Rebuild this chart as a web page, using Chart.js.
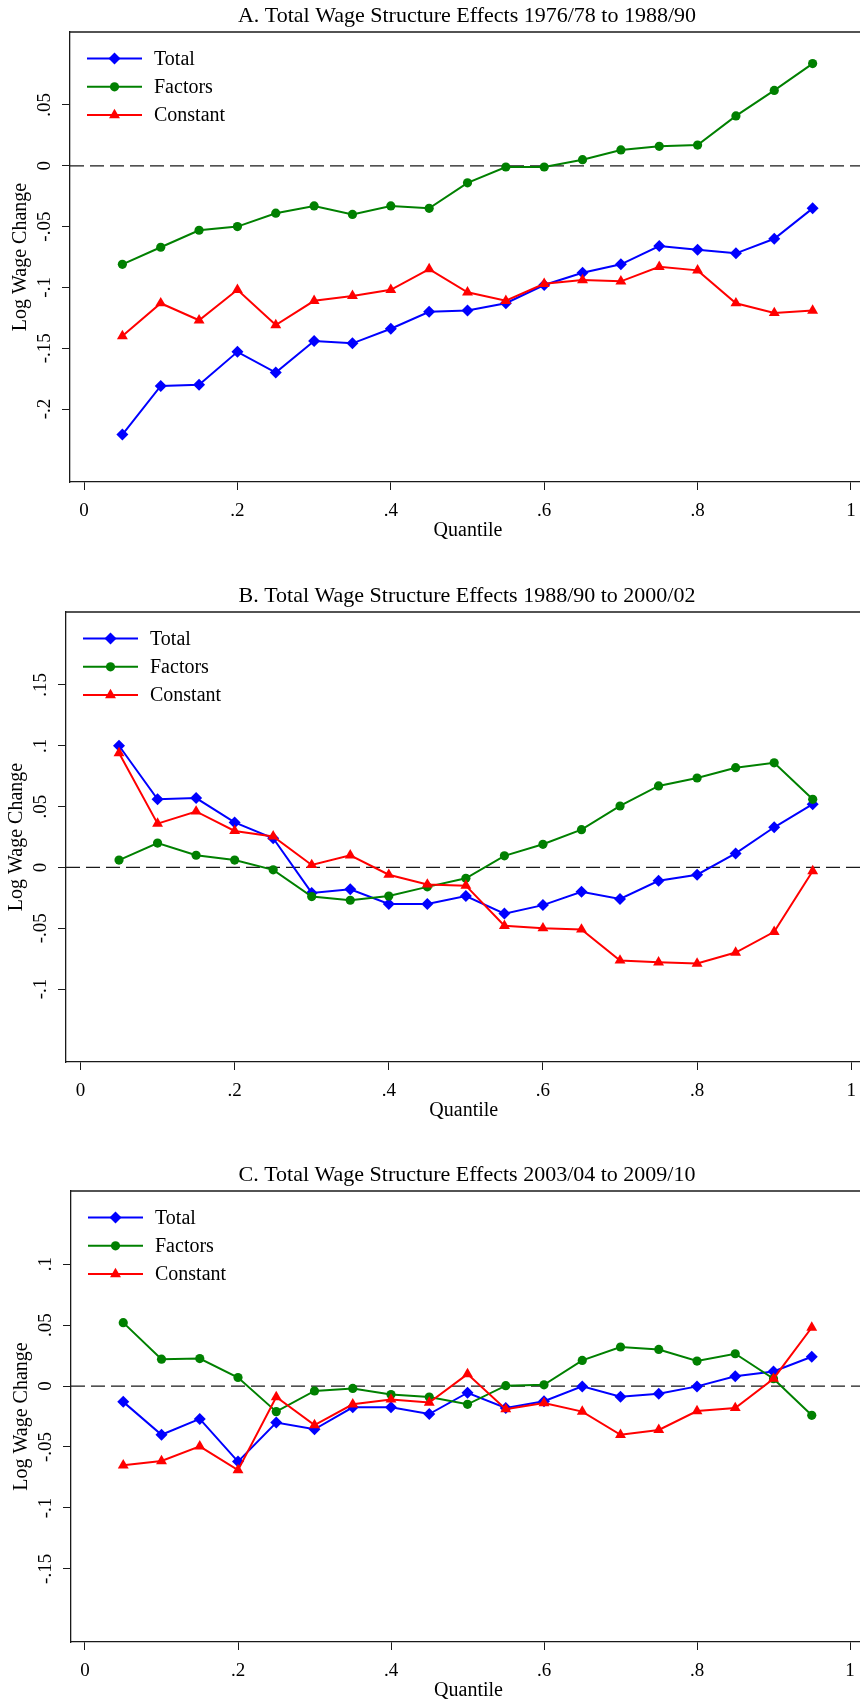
<!DOCTYPE html>
<html>
<head>
<meta charset="utf-8">
<title>Total Wage Structure Effects</title>
<script src="https://cdn.jsdelivr.net/npm/chart.js@4.4.1/dist/chart.umd.min.js"></script>
<style>
  html, body { margin: 0; padding: 0; background: #fff; overflow: hidden; width: 860px; height: 1699px; }
  .panel { position: absolute; left: 0; width: 866px; }
</style>
</head>
<body>
<div class="panel" style="top:0;height:550px"><canvas id="panel-a"></canvas></div>
<div class="panel" style="top:550px;height:580px"><canvas id="panel-b"></canvas></div>
<div class="panel" style="top:1130px;height:575px"><canvas id="panel-c"></canvas></div>
<script>
const quantiles = [0.05, 0.10, 0.15, 0.20, 0.25, 0.30, 0.35, 0.40, 0.45, 0.50, 0.55, 0.60, 0.65, 0.70, 0.75, 0.80, 0.85, 0.90, 0.95];
const xTicks = [0, 0.2, 0.4, 0.6, 0.8, 1];

// A. 1976/78 to 1988/90
const totalA    = [-0.221, -0.181, -0.180, -0.153, -0.170, -0.144, -0.146, -0.134, -0.120, -0.119, -0.113, -0.098, -0.088, -0.081, -0.066, -0.069, -0.072, -0.060, -0.035];
const factorsA  = [-0.081, -0.067, -0.053, -0.050, -0.039, -0.033, -0.040, -0.033, -0.035, -0.014, -0.001, -0.001, 0.005, 0.013, 0.016, 0.017, 0.041, 0.062, 0.084];
const constantA = [-0.140, -0.113, -0.127, -0.102, -0.131, -0.111, -0.107, -0.102, -0.085, -0.104, -0.111, -0.097, -0.094, -0.095, -0.083, -0.086, -0.113, -0.121, -0.119];
const yTicksA   = [-0.2, -0.15, -0.1, -0.05, 0, 0.05];

// B. 1988/90 to 2000/02
const totalB    = [0.100, 0.056, 0.057, 0.037, 0.024, -0.021, -0.018, -0.030, -0.030, -0.0235, -0.038, -0.031, -0.020, -0.026, -0.011, -0.006, 0.0115, 0.033, 0.052];
const factorsB  = [0.006, 0.020, 0.010, 0.006, -0.002, -0.024, -0.027, -0.0235, -0.016, -0.009, 0.0095, 0.019, 0.031, 0.0505, 0.067, 0.0735, 0.082, 0.086, 0.056];
const constantB = [0.094, 0.036, 0.046, 0.030, 0.0255, 0.002, 0.010, -0.006, -0.014, -0.015, -0.048, -0.050, -0.051, -0.0765, -0.078, -0.079, -0.070, -0.053, -0.003];
const yTicksB   = [-0.1, -0.05, 0, 0.05, 0.1, 0.15];

// C. 2003/04 to 2009/10
const totalC    = [-0.013, -0.040, -0.027, -0.062, -0.030, -0.0355, -0.0175, -0.0175, -0.023, -0.0055, -0.018, -0.0125, -0.0003, -0.0087, -0.0063, -0.0003, 0.008, 0.012, 0.024];
const factorsC  = [0.052, 0.022, 0.0225, 0.007, -0.021, -0.004, -0.002, -0.007, -0.009, -0.015, 0.0003, 0.001, 0.021, 0.032, 0.030, 0.0205, 0.0265, 0.006, -0.024];
const constantC = [-0.065, -0.0615, -0.0495, -0.069, -0.009, -0.032, -0.015, -0.011, -0.0135, 0.0098, -0.019, -0.014, -0.021, -0.040, -0.036, -0.0205, -0.018, 0.006, 0.048];
const yTicksC   = [-0.15, -0.1, -0.05, 0, 0.05, 0.1];

const FONT = '"Liberation Serif", "Times New Roman", serif';
const FRAME = '#1a1a1a';
const X_AXIS_HEIGHT = 61;

Chart.defaults.font.family = FONT;
Chart.defaults.color = '#000';
Chart.defaults.animation = false;

// stata style number labels: .05, -.1, 0, 1
function stataNum(v){
    if (Math.abs(v) < 1e-9) return '0';
    const s = String(Math.abs(v)).replace(/^0/, '');
    return (v < 0 ? '-' : '') + s;
}

function points(values){
    return values.map((v, i) => ({x: quantiles[i], y: v}));
}

// title, top frame line, rotated y labels + axis title and the legend inside the plot
const stataPlugin = {
    id: 'stata',
    afterDraw(chart, args, opts){
        const {ctx, chartArea: a} = chart;
        const y = chart.scales.y;
        ctx.save();
        ctx.strokeStyle = FRAME;
        ctx.lineWidth = 1.3;
        ctx.beginPath();
        ctx.moveTo(a.left, a.top);
        ctx.lineTo(a.right, a.top);
        ctx.stroke();

        ctx.fillStyle = '#000';
        ctx.textAlign = 'center';
        ctx.textBaseline = 'middle';
        ctx.font = '22px ' + FONT;
        ctx.fillText(opts.title, 467, a.top - 16);

        ctx.font = '19px ' + FONT;
        for (const t of y.ticks){
            const py = y.getPixelForValue(t.value);
            ctx.save();
            ctx.translate(a.left - 25, py);
            ctx.rotate(-Math.PI / 2);
            ctx.fillText(stataNum(t.value), 0, 0);
            ctx.restore();
        }

        ctx.font = '20px ' + FONT;
        ctx.save();
        ctx.translate(a.left - 49, (a.top + a.bottom) / 2);
        ctx.rotate(-Math.PI / 2);
        ctx.fillText('Log Wage Change', 0, 0);
        ctx.restore();

        const series = chart.data.datasets.filter(ds => ds.inLegend);
        series.forEach((ds, i) => {
            const cy = a.top + 26.5 + i * 28.3;
            ctx.strokeStyle = ds.borderColor;
            ctx.fillStyle = ds.backgroundColor;
            ctx.lineWidth = 2;
            ctx.beginPath();
            ctx.moveTo(a.left + 17, cy);
            ctx.lineTo(a.left + 72, cy);
            ctx.stroke();
            Chart.helpers.drawPoint(ctx, {pointStyle: ds.pointStyle, radius: ds.pointRadius, borderWidth: 0, rotation: 0}, a.left + 44.5, cy);
            ctx.fillStyle = '#000';
            ctx.textAlign = 'left';
            ctx.font = '20px ' + FONT;
            ctx.fillText(ds.label, a.left + 84, cy + 1);
        });
        ctx.restore();
    }
};

function buildPanel(id, p){
    const series = [
        {label: 'Total', data: points(p.total), color: '#0000ff', style: 'rectRot', radius: 6, order: 3},
        {label: 'Factors', data: points(p.factors), color: '#008000', style: 'circle', radius: 4.6, order: 2},
        {label: 'Constant', data: points(p.constant), color: '#ff0000', style: 'triangle', radius: 6.3, order: 1}
    ];
    const datasets = series.map(s => ({
        label: s.label,
        data: s.data,
        borderColor: s.color,
        backgroundColor: s.color,
        borderWidth: 2,
        pointStyle: s.style,
        pointRadius: s.radius,
        pointBorderWidth: 0,
        tension: 0,
        order: s.order,
        inLegend: true
    }));
    datasets.push({
        label: 'zero',
        data: [{x: p.xmin, y: 0}, {x: p.xmax, y: 0}],
        borderColor: FRAME,
        borderWidth: 1.3,
        borderDash: [14, 6],
        pointRadius: 0,
        order: 10
    });

    const axisLine = {display: true, color: FRAME, width: 1.3};
    const tickMarks = {drawOnChartArea: false, drawTicks: true, tickLength: 8, color: FRAME, lineWidth: 1};

    return new Chart(id, {
        type: 'line',
        data: {datasets: datasets},
        options: {
            responsive: true,
            maintainAspectRatio: false,
            layout: {autoPadding: false, padding: {left: 0, right: 0, top: p.areaTop, bottom: p.height - p.areaBottom - X_AXIS_HEIGHT}},
            plugins: {legend: {display: false}, tooltip: {enabled: false}, stata: {title: p.title}},
            scales: {
                x: {
                    type: 'linear',
                    position: 'bottom',
                    min: p.xmin,
                    max: p.xmax,
                    afterBuildTicks: s => { s.ticks = xTicks.map(v => ({value: v})); },
                    afterFit: s => { s.height = X_AXIS_HEIGHT; },
                    ticks: {callback: v => stataNum(v), font: {size: 19}, padding: 10, maxRotation: 0, autoSkip: false},
                    grid: tickMarks,
                    border: axisLine,
                    title: {display: true, text: 'Quantile', font: {size: 20}, padding: {top: 0, bottom: 0}}
                },
                y: {
                    type: 'linear',
                    min: p.ymin,
                    max: p.ymax,
                    afterBuildTicks: s => { s.ticks = p.yTicks.map(v => ({value: v})); },
                    afterFit: s => { s.width = p.areaLeft; },
                    ticks: {display: false},
                    grid: tickMarks,
                    border: axisLine,
                    title: {display: false}
                }
            }
        },
        plugins: [stataPlugin]
    });
}

document.addEventListener('DOMContentLoaded', () => {
    buildPanel('panel-a', {
        title: 'A. Total Wage Structure Effects 1976/78 to 1988/90',
        total: totalA, factors: factorsA, constant: constantA, yTicks: yTicksA,
        height: 550, areaTop: 32, areaBottom: 482, areaLeft: 70,
        xmin: -0.0183, xmax: 1.0196, ymin: -0.26, ymax: 0.11
    });
    buildPanel('panel-b', {
        title: 'B. Total Wage Structure Effects 1988/90 to 2000/02',
        total: totalB, factors: factorsB, constant: constantB, yTicks: yTicksB,
        height: 580, areaTop: 62, areaBottom: 512, areaLeft: 66,
        xmin: -0.0188, xmax: 1.0134, ymin: -0.16, ymax: 0.21
    });
    buildPanel('panel-c', {
        title: 'C. Total Wage Structure Effects 2003/04 to 2009/10',
        total: totalC, factors: factorsC, constant: constantC, yTicks: yTicksC,
        height: 575, areaTop: 61, areaBottom: 512, areaLeft: 71,
        xmin: -0.0183, xmax: 1.0209, ymin: -0.21, ymax: 0.16
    });
});
</script>
</body>
</html>
